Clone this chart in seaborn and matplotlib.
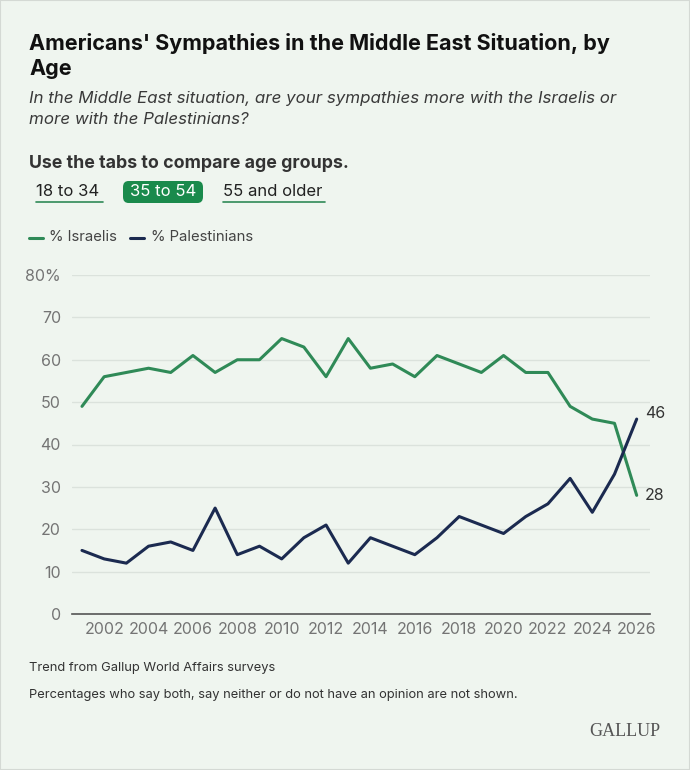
import numpy as np
import pandas as pd
import matplotlib
matplotlib.use("Agg")
import matplotlib.pyplot as plt
from matplotlib.patches import FancyBboxPatch, Rectangle
import seaborn as sns

years = list(range(2001, 2027))
israelis = [49, 56, 57, 58, 57, 61, 57, 60, 60, 65, 63, 56, 65, 58, 59, 56, 61, 59, 57, 61, 57, 57, 49, 46, 45, 28]
palestinians = [15, 13, 12, 16, 17, 15, 25, 14, 16, 13, 18, 21, 12, 18, 16, 14, 18, 23, 21, 19, 23, 26, 32, 24, 33, 46]
series_names = ["% Israelis", "% Palestinians"]
y_ticks = [0, 10, 20, 30, 40, 50, 60, 70, 80]
y_tick_labels = ["0", "10", "20", "30", "40", "50", "60", "70", "80%"]
x_ticks = list(range(2002, 2027, 2))
tabs = ["18 to 34", "35 to 54", "55 and older"]

GREEN = "#2f8a57"
NAVY = "#1b2a50"
BG = "#eff5ef"
TAB_GREEN = "#1a8a4c"

sns.set_theme(style="white")
plt.rcParams["font.family"] = ["Inter", "DejaVu Sans"]

W, H = 690, 770
fig = plt.figure(figsize=(W / 100, H / 100), dpi=100, facecolor=BG)

def fx(x):
    return x / W

def fy(y):
    return 1 - y / H

# border
fig.patches.append(Rectangle((0, 0), 1, 1, transform=fig.transFigure, fill=False,
                             edgecolor="#d4d9d4", linewidth=1.5))

ax = fig.add_axes([fx(72), fy(614), fx(650) - fx(72), fy(275) - fy(614)])
ax.set_facecolor(BG)

df = pd.DataFrame({
    "year": years * 2,
    "value": israelis + palestinians,
    "series": [series_names[0]] * len(years) + [series_names[1]] * len(years),
})
sns.lineplot(data=df, x="year", y="value", hue="series",
             palette={series_names[0]: GREEN, series_names[1]: NAVY},
             linewidth=2.2, ax=ax, legend=False)

ax.set_xlim(2000.55, 2026.6)
ax.set_ylim(0, 80)
ax.set_yticks(y_ticks)
ax.set_yticklabels(y_tick_labels)
ax.set_xticks(x_ticks)
ax.set_xticklabels([str(x) for x in x_ticks])
ax.set_xlabel("")
ax.set_ylabel("")
ax.grid(axis="y", color="#dbe2dc", linewidth=1)
ax.set_axisbelow(True)
for s in ["top", "right", "left"]:
    ax.spines[s].set_visible(False)
ax.spines["bottom"].set_color("#555555")
ax.spines["bottom"].set_linewidth(1.2)
ax.tick_params(axis="both", length=0, labelsize=11.5, colors="#747474")
ax.tick_params(axis="y", pad=8)
ax.tick_params(axis="x", pad=6)

# end labels
ax.annotate(str(palestinians[-1]), xy=(years[-1], palestinians[-1]), xytext=(6, 4),
            textcoords="offset points", fontsize=11.5, color="#333333", va="center")
ax.annotate(str(israelis[-1]), xy=(years[-1], israelis[-1]), xytext=(6, 0),
            textcoords="offset points", fontsize=11.5, color="#333333", va="center")

# titles
fig.text(fx(29), fy(44), "Americans' Sympathies in the Middle East Situation, by",
         fontsize=15.5, fontweight="bold", color="#111111", va="center")
fig.text(fx(29), fy(69), "Age", fontsize=15.5, fontweight="bold", color="#111111", va="center")
fig.text(fx(29), fy(98), "In the Middle East situation, are your sympathies more with the Israelis or",
         fontsize=12.2, style="italic", color="#3a3a3a", va="center")
fig.text(fx(29), fy(120), "more with the Palestinians?",
         fontsize=12.2, style="italic", color="#3a3a3a", va="center")
fig.text(fx(29), fy(163), "Use the tabs to compare age groups.",
         fontsize=12.8, fontweight="bold", color="#333333", va="center")

# tabs
tab_x = [36, 128, 223]
tab_w = [67, 71, 102]
for i, (label, x0, w) in enumerate(zip(tabs, tab_x, tab_w)):
    if i == 1:
        fig.patches.append(FancyBboxPatch((fx(123), fy(203)), fx(203) - fx(123), fy(181) - fy(203),
                                          boxstyle="round,pad=0,rounding_size=0.008",
                                          transform=fig.transFigure, facecolor=TAB_GREEN,
                                          edgecolor="none"))
        fig.text(fx(163), fy(192), label, fontsize=12, color="white", va="center", ha="center")
    else:
        fig.text(fx(x0), fy(192), label, fontsize=12, color="#222222", va="center")
        fig.lines.append(plt.Line2D([fx(x0), fx(x0 + w)], [fy(202), fy(202)],
                                    transform=fig.transFigure, color=GREEN, linewidth=1.2))

# legend
fig.lines.append(plt.Line2D([fx(29), fx(43)], [fy(238), fy(238)], transform=fig.transFigure,
                            color=GREEN, linewidth=2.2))
fig.text(fx(49), fy(237), series_names[0], fontsize=10.7, color="#444444", va="center")
fig.lines.append(plt.Line2D([fx(130), fx(144)], [fy(238), fy(238)], transform=fig.transFigure,
                            color=NAVY, linewidth=2.2))
fig.text(fx(151), fy(237), series_names[1], fontsize=10.7, color="#444444", va="center")

# footer
fig.text(fx(29), fy(668), "Trend from Gallup World Affairs surveys",
         fontsize=9.3, color="#333333", va="center")
fig.text(fx(29), fy(695), "Percentages who say both, say neither or do not have an opinion are not shown.",
         fontsize=9.3, color="#333333", va="center")
fig.text(fx(660), fy(732), "GALLUP", fontsize=13, color="#555555", va="center", ha="right",
         family=["Liberation Serif", "DejaVu Serif"])

fig.savefig("out.png", dpi=100, facecolor=BG)
